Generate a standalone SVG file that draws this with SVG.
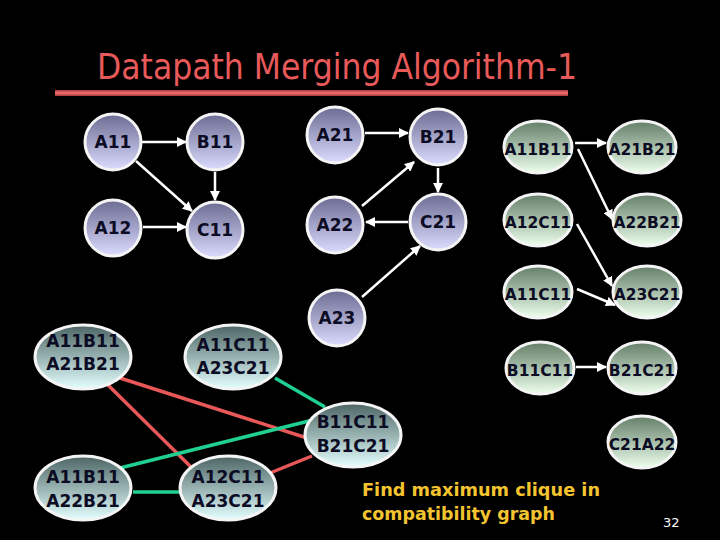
<svg xmlns="http://www.w3.org/2000/svg" width="720" height="540" viewBox="0 0 720 540">
<defs>
<linearGradient id="gc" x1="0" y1="0" x2="0" y2="1">
<stop offset="0" stop-color="#6c6c94"/>
<stop offset="1" stop-color="#dcdcff"/>
</linearGradient>
<linearGradient id="gg" x1="0" y1="0" x2="0" y2="1">
<stop offset="0" stop-color="#647e68"/>
<stop offset="1" stop-color="#ecffec"/>
</linearGradient>
<linearGradient id="gt" x1="0" y1="0" x2="0" y2="1">
<stop offset="0" stop-color="#4c6464"/>
<stop offset="1" stop-color="#e4ffff"/>
</linearGradient>
<linearGradient id="gr" x1="0" y1="0" x2="0" y2="1">
<stop offset="0" stop-color="#a83838"/>
<stop offset="0.5" stop-color="#f07070"/>
<stop offset="1" stop-color="#a83838"/>
</linearGradient>
<marker id="ah" viewBox="0 0 10 10" refX="9" refY="5" markerWidth="4" markerHeight="4" orient="auto" markerUnits="strokeWidth">
<path d="M0,0 L10,5 L0,10 z" fill="#ffffff"/>
</marker>
</defs>
<style>
.c{fill:url(#gc);stroke:#f4f4f4;stroke-width:3}
.g{fill:url(#gg);stroke:#f4f4f4;stroke-width:3}
.t{fill:url(#gt);stroke:#f4f4f4;stroke-width:3}
.lb{font-family:"DejaVu Sans",Verdana,sans-serif;font-weight:bold;fill:#0c0c24;text-anchor:middle}
.s{font-size:17px}
.m{font-size:15.5px}
.w{stroke:#ffffff;stroke-width:2.5;fill:none}
.wa{stroke:#ffffff;stroke-width:2.5;fill:none;marker-end:url(#ah)}
.red{stroke:#e85858;stroke-width:3.5}
.grn{stroke:#20d090;stroke-width:3.5}
</style>
<rect width="720" height="540" fill="#000000"/>
<text x="97" y="79" font-family="'DejaVu Sans Condensed','DejaVu Sans',sans-serif" font-size="35" fill="#e85a5a" textLength="480" lengthAdjust="spacingAndGlyphs">Datapath Merging Algorithm-1</text>
<rect x="55" y="90" width="513" height="6" fill="url(#gr)"/>

<g id="connectors">
<line class="wa" x1="142" y1="142" x2="186" y2="142"/>
<line class="wa" x1="215" y1="172" x2="215" y2="200"/>
<line class="wa" x1="136" y1="161" x2="192" y2="211"/>
<line class="wa" x1="143" y1="227" x2="186" y2="227"/>
<line class="wa" x1="365" y1="133" x2="408" y2="133"/>
<line class="wa" x1="438" y1="168" x2="438" y2="192"/>
<line class="wa" x1="362" y1="206" x2="414" y2="162"/>
<line class="wa" x1="408" y1="222" x2="366" y2="222"/>
<line class="wa" x1="362" y1="297" x2="420" y2="246"/>
<line class="wa" x1="575" y1="143" x2="606" y2="143"/>
<line class="wa" x1="578" y1="149" x2="612" y2="219"/>
<line class="wa" x1="577" y1="224" x2="612" y2="286"/>
<line class="wa" x1="577" y1="289" x2="615" y2="305"/>
<line class="wa" x1="576" y1="367" x2="606" y2="367"/>
<line class="red" x1="120" y1="378" x2="307" y2="438"/>
<line class="red" x1="108" y1="385" x2="192" y2="468"/>
<line class="grn" x1="275" y1="378" x2="325" y2="407"/>
<line class="grn" x1="120" y1="468" x2="313" y2="420"/>
<line class="grn" x1="133" y1="492" x2="180" y2="492"/>
<line class="red" x1="270" y1="473" x2="312" y2="456"/>
</g>

<g id="A11"><circle class="c" cx="113" cy="142" r="28"/><text class="lb s" x="113" y="148">A11</text></g>
<g id="B11"><circle class="c" cx="215" cy="142" r="28"/><text class="lb s" x="215" y="148">B11</text></g>
<g id="A12"><circle class="c" cx="113" cy="228" r="28"/><text class="lb s" x="113" y="234">A12</text></g>
<g id="C11"><circle class="c" cx="215" cy="230" r="28"/><text class="lb s" x="215" y="236">C11</text></g>
<g id="A21"><circle class="c" cx="335" cy="135" r="28"/><text class="lb s" x="335" y="141">A21</text></g>
<g id="B21"><circle class="c" cx="438" cy="137" r="28"/><text class="lb s" x="438" y="143">B21</text></g>
<g id="A22"><circle class="c" cx="335" cy="225" r="28"/><text class="lb s" x="335" y="231">A22</text></g>
<g id="C21"><circle class="c" cx="438" cy="222" r="28"/><text class="lb s" x="438" y="228">C21</text></g>
<g id="A23"><circle class="c" cx="337" cy="318" r="28"/><text class="lb s" x="337" y="324">A23</text></g>

<g id="A11B11"><ellipse class="g" cx="538" cy="147" rx="34" ry="26"/><text class="lb m" x="538" y="155">A11B11</text></g>
<g id="A21B21"><ellipse class="g" cx="642" cy="147" rx="34" ry="26"/><text class="lb m" x="642" y="155">A21B21</text></g>
<g id="A12C11"><ellipse class="g" cx="538" cy="220" rx="34" ry="26"/><text class="lb m" x="538" y="228">A12C11</text></g>
<g id="A22B21"><ellipse class="g" cx="647" cy="220" rx="34" ry="26"/><text class="lb m" x="647" y="228">A22B21</text></g>
<g id="A11C11"><ellipse class="g" cx="538" cy="292" rx="34" ry="26"/><text class="lb m" x="538" y="300">A11C11</text></g>
<g id="A23C21"><ellipse class="g" cx="647" cy="292" rx="34" ry="26"/><text class="lb m" x="647" y="300">A23C21</text></g>
<g id="B11C11"><ellipse class="g" cx="540" cy="368" rx="34" ry="26"/><text class="lb m" x="540" y="376">B11C11</text></g>
<g id="B21C21"><ellipse class="g" cx="642" cy="368" rx="34" ry="26"/><text class="lb m" x="642" y="376">B21C21</text></g>
<g id="C21A22"><ellipse class="g" cx="642" cy="442" rx="34" ry="26"/><text class="lb m" x="642" y="450">C21A22</text></g>

<g id="M1"><ellipse class="t" cx="83" cy="357" rx="48" ry="32"/><text class="lb s" x="83" y="347">A11B11</text><text class="lb s" x="83" y="370">A21B21</text></g>
<g id="M2"><ellipse class="t" cx="233" cy="357" rx="48" ry="32"/><text class="lb s" x="233" y="351">A11C11</text><text class="lb s" x="233" y="374">A23C21</text></g>
<g id="M3"><ellipse class="t" cx="353" cy="435" rx="48" ry="32"/><text class="lb s" x="353" y="428">B11C11</text><text class="lb s" x="353" y="452">B21C21</text></g>
<g id="M4"><ellipse class="t" cx="83" cy="488" rx="48" ry="32"/><text class="lb s" x="83" y="483">A11B11</text><text class="lb s" x="83" y="507">A22B21</text></g>
<g id="M5"><ellipse class="t" cx="228" cy="488" rx="48" ry="32"/><text class="lb s" x="228" y="483">A12C11</text><text class="lb s" x="228" y="507">A23C21</text></g>

<text x="362" y="496" font-family="'DejaVu Sans',Verdana,sans-serif" font-weight="bold" font-size="17" fill="#f4c430" textLength="238" lengthAdjust="spacingAndGlyphs">Find maximum clique in</text>
<text x="362" y="520" font-family="'DejaVu Sans',Verdana,sans-serif" font-weight="bold" font-size="17" fill="#f4c430" textLength="193" lengthAdjust="spacingAndGlyphs">compatibility graph</text>
<text x="663" y="527" font-family="'DejaVu Sans',sans-serif" font-size="13" fill="#ffffff">32</text>
</svg>
